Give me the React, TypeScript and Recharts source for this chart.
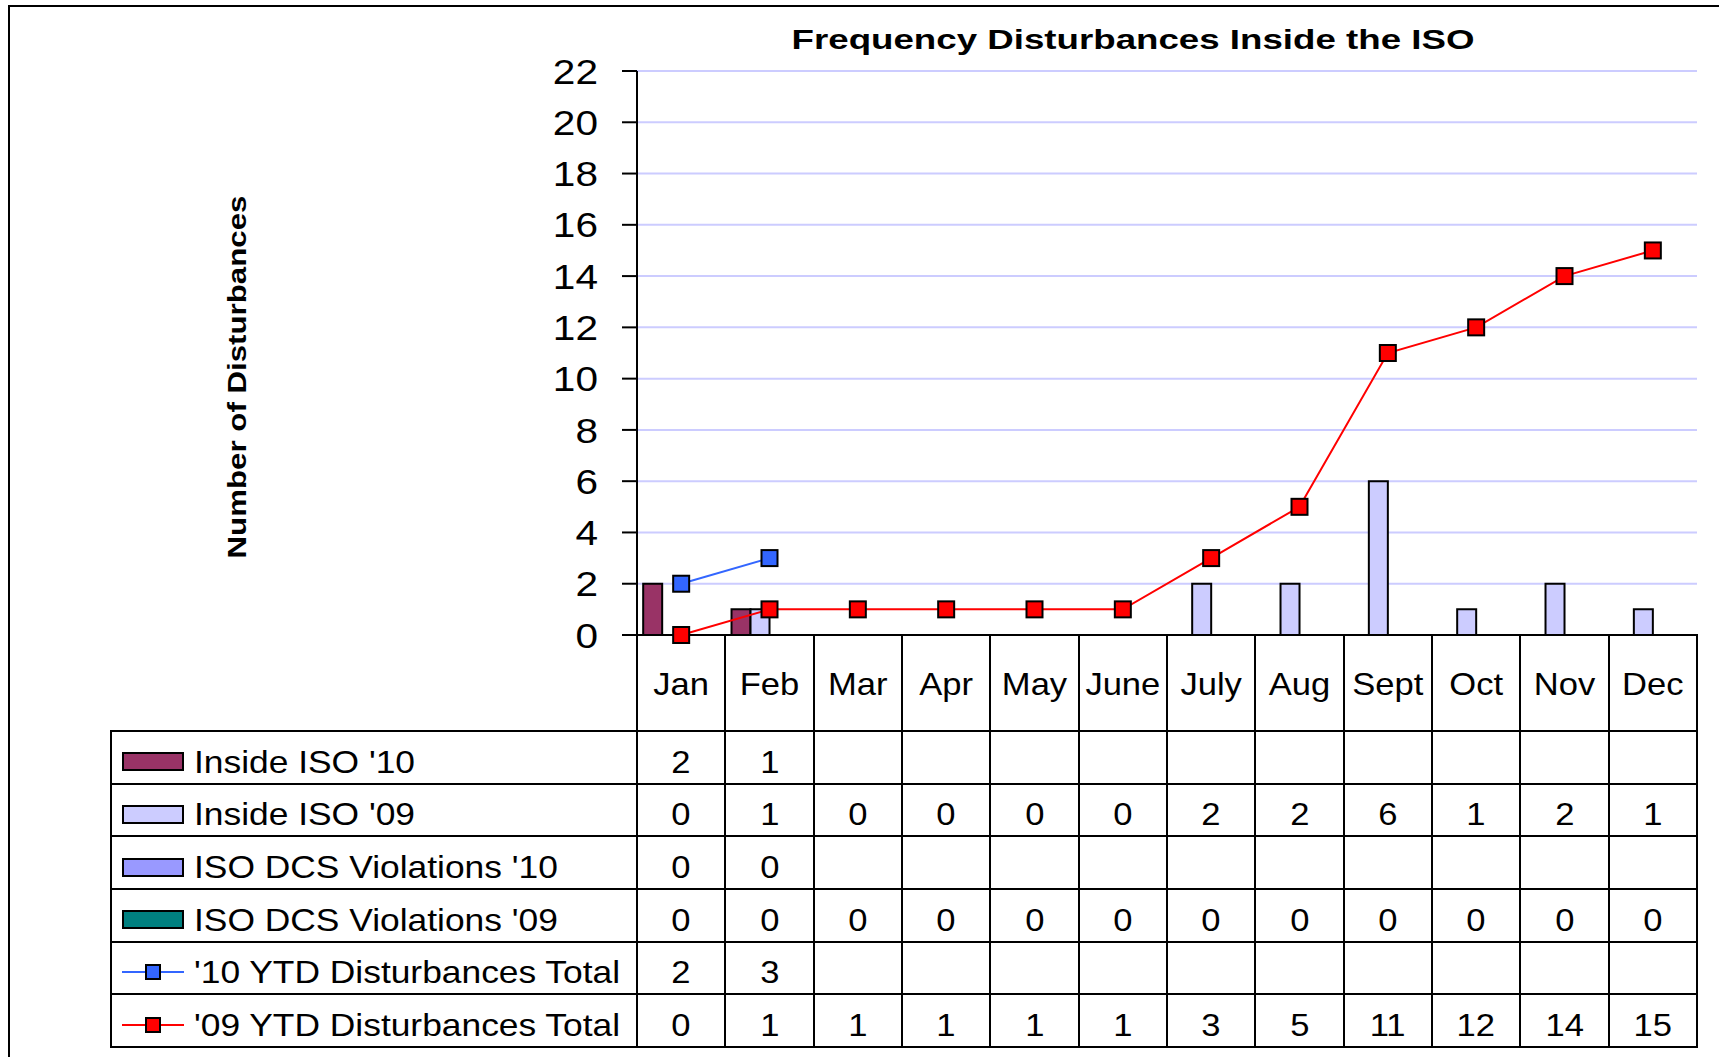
import React from 'react';
import { ComposedChart, Bar, Line, XAxis, YAxis, CartesianGrid } from 'recharts';

const months = ['Jan', 'Feb', 'Mar', 'Apr', 'May', 'June', 'July', 'Aug', 'Sept', 'Oct', 'Nov', 'Dec'];
const insideIso10 = [2, 1, null, null, null, null, null, null, null, null, null, null];
const insideIso09 = [0, 1, 0, 0, 0, 0, 2, 2, 6, 1, 2, 1];
const dcsViolations10 = [0, 0, null, null, null, null, null, null, null, null, null, null];
const dcsViolations09 = [0, 0, 0, 0, 0, 0, 0, 0, 0, 0, 0, 0];
const ytd10 = [2, 3, null, null, null, null, null, null, null, null, null, null];
const ytd09 = [0, 1, 1, 1, 1, 1, 3, 5, 11, 12, 14, 15];
const yTicks = [0, 2, 4, 6, 8, 10, 12, 14, 16, 18, 20, 22];

const series = [
  { key: 'in10', name: "Inside ISO '10", kind: 'bar', color: '#993366', values: insideIso10 },
  { key: 'in09', name: "Inside ISO '09", kind: 'bar', color: '#CCCCFF', values: insideIso09 },
  { key: 'dcs10', name: "ISO DCS Violations '10", kind: 'bar', color: '#9999FF', values: dcsViolations10 },
  { key: 'dcs09', name: "ISO DCS Violations '09", kind: 'bar', color: '#008080', values: dcsViolations09 },
  { key: 'ytd10', name: "'10 YTD Disturbances Total", kind: 'line', color: '#3366FF', values: ytd10 },
  { key: 'ytd09', name: "'09 YTD Disturbances Total", kind: 'line', color: '#FF0000', values: ytd09 },
];

const data = months.map((m, i) => {
  const row: any = { month: m };
  series.forEach((s) => (row[s.key] = s.values[i]));
  return row;
});

const FONT = '"Liberation Sans", Arial, sans-serif';
const W = 1719;
const H = 1057;
const PLOT_L = 637;
const PLOT_R = 1697;
const PLOT_T = 71;
const PLOT_B = 635;
const MONTH_ROW_H = 96;
const TABLE_L = 111;
const ROW_H = (1047 - 731) / 6;
const COL_W = (PLOT_R - PLOT_L) / 12;

const YTick = (props: any) => {
  const { x, y, payload } = props;
  return (
    <g transform={`translate(${x},${y}) scale(1.16,1)`}>
      <text x={0} y={0} dy="0.36em" textAnchor="end" fontSize={35} fontFamily={FONT} fill="#000">
        {payload.value}
      </text>
    </g>
  );
};

const XTick = (props: any) => {
  const { x, payload } = props;
  const cy = PLOT_B + MONTH_ROW_H / 2;
  return (
    <g transform={`translate(${x},${cy}) scale(1.08,1)`}>
      <text x={0} y={0} dy="0.36em" textAnchor="middle" fontSize={32} fontFamily={FONT} fill="#000">
        {payload.value}
      </text>
    </g>
  );
};

const squareDot = (color: string) => (props: any) => {
  const { cx, cy, value, index } = props;
  if (value == null || cy == null || isNaN(cy)) return <g key={index} />;
  return <rect key={index} x={cx - 8} y={cy - 8} width={16} height={16} fill={color} stroke="#000" strokeWidth={2} />;
};

function Cell({ x, y, w, h, children, align = 'center' }: any) {
  return (
    <div
      style={{
        position: 'absolute',
        left: x - 1,
        top: y - 1,
        width: w + 2,
        height: h + 2,
        border: '2px solid #000',
        boxSizing: 'border-box',
        display: 'flex',
        alignItems: 'center',
        justifyContent: align === 'left' ? 'flex-start' : 'center',
        fontFamily: FONT,
        fontSize: 32,
        paddingTop: 10,
        overflow: 'visible',
        whiteSpace: 'nowrap',
      }}
    >
      {children}
    </div>
  );
}

function Swatch({ s }: any) {
  if (s.kind === 'bar') {
    return (
      <div
        style={{
          position: 'absolute',
          left: 10,
          top: '50%',
          marginTop: -5,
          width: 62,
          height: 19,
          background: s.color,
          border: '2px solid #000',
          boxSizing: 'border-box',
        }}
      />
    );
  }
  return (
    <div style={{ position: 'absolute', left: 10, top: '50%', marginTop: 4, width: 62, height: 0 }}>
      <div style={{ position: 'absolute', left: 0, top: -1, width: 62, height: 2, background: s.color }} />
      <div
        style={{
          position: 'absolute',
          left: 23,
          top: -8,
          width: 16,
          height: 16,
          background: s.color,
          border: '2px solid #000',
          boxSizing: 'border-box',
        }}
      />
    </div>
  );
}

export default function App() {
  const tableTop = PLOT_B + MONTH_ROW_H;
  return (
    <div style={{ position: 'absolute', left: 0, top: 0, width: W, height: H, overflow: 'hidden', background: '#fff' }}>
      {/* outer frame */}
      <div
        style={{
          position: 'absolute',
          left: 8,
          top: 5,
          width: W - 8,
          height: H - 5,
          borderLeft: '2px solid #000',
          borderTop: '2px solid #000',
          boxSizing: 'border-box',
        }}
      />

      {/* month row */}
      {months.map((m, i) => (
        <Cell key={m} x={PLOT_L + i * COL_W} y={PLOT_B} w={COL_W} h={MONTH_ROW_H} />
      ))}

      {/* data table */}
      {series.map((s, r) => (
        <React.Fragment key={s.key}>
          <Cell x={TABLE_L} y={tableTop + r * ROW_H} w={PLOT_L - TABLE_L} h={ROW_H} align="left">
            <Swatch s={s} />
            <span
              style={{
                display: 'inline-block',
                marginLeft: 82,
                transform: 'scaleX(1.105)',
                transformOrigin: 'left center',
              }}
            >
              {s.name}
            </span>
          </Cell>
          {s.values.map((v, i) => (
            <Cell key={i} x={PLOT_L + i * COL_W} y={tableTop + r * ROW_H} w={COL_W} h={ROW_H}>
              <span style={{ display: 'inline-block', transform: 'scaleX(1.08)' }}>{v == null ? '' : v}</span>
            </Cell>
          ))}
        </React.Fragment>
      ))}

      {/* title */}
      <div
        style={{
          position: 'absolute',
          left: 1133,
          top: 40,
          transform: 'translate(-50%, -50%) scaleX(1.31)',
          fontFamily: FONT,
          fontWeight: 'bold',
          fontSize: 28,
          whiteSpace: 'nowrap',
        }}
      >
        Frequency Disturbances Inside the ISO
      </div>

      {/* y axis title */}
      <div
        style={{
          position: 'absolute',
          left: 237,
          top: 377,
          transform: 'translate(-50%, -50%) rotate(-90deg) scaleX(1.25)',
          fontFamily: FONT,
          fontWeight: 'bold',
          fontSize: 25,
          whiteSpace: 'nowrap',
        }}
      >
        Number of Disturbances
      </div>

      <div style={{ position: 'absolute', left: 0, top: 0 }}>
        <ComposedChart
          width={W}
          height={H}
          data={data}
          margin={{ top: PLOT_T, right: W - PLOT_R, bottom: H - PLOT_B - MONTH_ROW_H, left: PLOT_L - 100 }}
          barCategoryGap="7%"
          barGap={0}
        >
          <CartesianGrid horizontal vertical={false} stroke="#CCCCFF" strokeWidth={2} />
          <XAxis
            dataKey="month"
            height={MONTH_ROW_H}
            axisLine={{ stroke: '#000', strokeWidth: 2 }}
            tickLine={false}
            tick={<XTick />}
            interval={0}
          />
          <YAxis
            width={100}
            domain={[0, 22]}
            ticks={yTicks}
            interval={0}
            axisLine={{ stroke: '#000', strokeWidth: 2 }}
            tickLine={{ stroke: '#000', strokeWidth: 2 }}
            tickSize={15}
            tickMargin={24}
            tick={<YTick />}
          />
          {series
            .filter((s) => s.kind === 'bar')
            .map((s) => (
              <Bar key={s.key} dataKey={s.key} name={s.name} fill={s.color} stroke="#000" strokeWidth={2} isAnimationActive={false} />
            ))}
          {series
            .filter((s) => s.kind === 'line')
            .map((s) => (
              <Line
                key={s.key}
                dataKey={s.key}
                name={s.name}
                type="linear"
                stroke={s.color}
                strokeWidth={2}
                dot={squareDot(s.color)}
                activeDot={false}
                connectNulls={false}
                isAnimationActive={false}
              />
            ))}
        </ComposedChart>
      </div>
    </div>
  );
}
